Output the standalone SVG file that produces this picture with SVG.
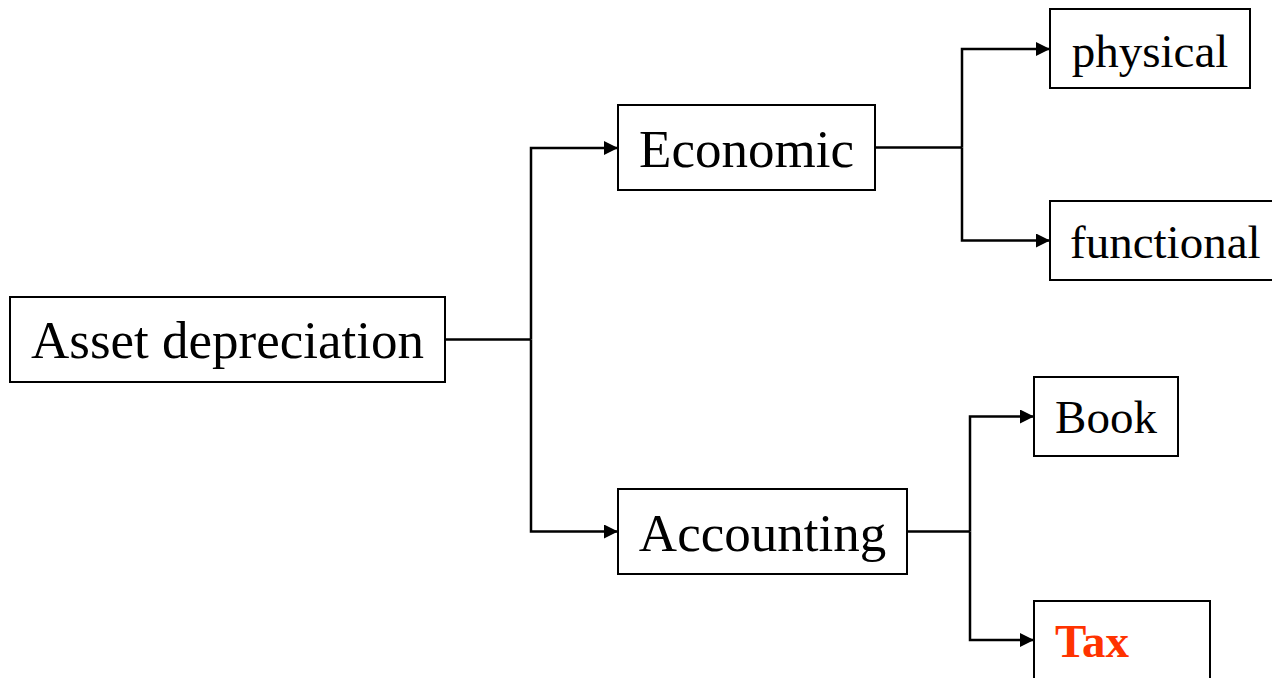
<svg xmlns="http://www.w3.org/2000/svg" width="1272" height="678" viewBox="0 0 1272 678">
<style>
.box{fill:#fff;stroke:#000;stroke-width:2}
.big{font-family:"Liberation Serif","Times New Roman",serif;font-size:53px;fill:#000}
.small{font-family:"Liberation Serif","Times New Roman",serif;font-size:47px;fill:#000}
.tax{font-family:"Liberation Serif","Times New Roman",serif;font-size:47px;font-weight:bold;fill:#FF3300}
.conn{fill:none;stroke:#000;stroke-width:2.5}
</style>
<defs>
<marker id="arr" markerWidth="14" markerHeight="14" refX="14" refY="7" orient="auto" markerUnits="userSpaceOnUse">
<path d="M0,0 L14,7 L0,14 Z" fill="#000"/>
</marker>
</defs>
<rect width="1272" height="678" fill="#fff"/>
<g id="connectors">
<path class="conn" d="M445,339.5 H531"/>
<path class="conn" d="M531,339.5 V148 H618" marker-end="url(#arr)"/>
<path class="conn" d="M531,339.5 V531.5 H618" marker-end="url(#arr)"/>
<path class="conn" d="M875,147.5 H962"/>
<path class="conn" d="M962,147.5 V49 H1050" marker-end="url(#arr)"/>
<path class="conn" d="M962,147.5 V240.5 H1050" marker-end="url(#arr)"/>
<path class="conn" d="M907,531.5 H970"/>
<path class="conn" d="M970,531.5 V416.5 H1034" marker-end="url(#arr)"/>
<path class="conn" d="M970,531.5 V640 H1034" marker-end="url(#arr)"/>
</g>
<g id="asset">
<rect class="box" x="10" y="297" width="435" height="85"/>
<text class="big" x="227.5" y="358" text-anchor="middle">Asset depreciation</text>
</g>
<g id="economic">
<rect class="box" x="618" y="105" width="257" height="85"/>
<text class="big" x="746.5" y="167" text-anchor="middle">Economic</text>
</g>
<g id="accounting">
<rect class="box" x="618" y="489" width="289" height="85"/>
<text class="big" x="762.5" y="551" text-anchor="middle">Accounting</text>
</g>
<g id="physical">
<rect class="box" x="1050" y="9" width="200" height="79"/>
<text class="small" x="1150" y="67" text-anchor="middle">physical</text>
</g>
<g id="functional">
<rect class="box" x="1050" y="201" width="240" height="79"/>
<text class="small" x="1070" y="258">functional</text>
</g>
<g id="book">
<rect class="box" x="1034" y="377" width="144" height="79"/>
<text class="small" x="1106" y="433" text-anchor="middle">Book</text>
</g>
<g id="tax">
<rect class="box" x="1034" y="601" width="176" height="90"/>
<text class="tax" x="1055" y="657">Tax</text>
</g>
</svg>
